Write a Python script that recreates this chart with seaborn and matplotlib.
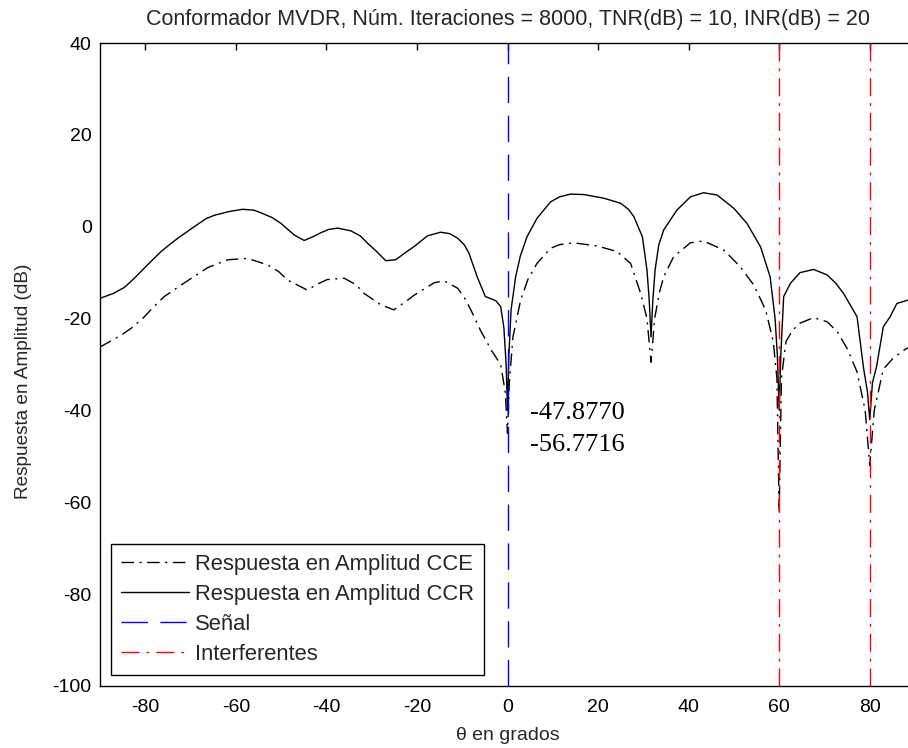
import matplotlib
matplotlib.use("Agg")
import matplotlib.pyplot as plt
import seaborn as sns
import pandas as pd

# --- Data ---
theta_ccr = [-90, -87, -84.6, -82.4, -79.5, -76.5, -74.5, -72.8, -69.2, -66.5,
             -64.7, -61.5, -58.5, -56, -54.4, -52, -50, -47.1, -44.9, -43,
             -41.2, -39.5, -37.5, -34.6, -32.5, -30.9, -28.8, -26.9, -24.7, -22.5,
             -20.6, -17.7, -14.8, -12.8, -11.0, -9.5, -8.5, -6.7, -4.9, -2.6,
             -1.5, -0.8, -0.3, 0, 0.3, 0.8, 1.8, 2.8, 4.3, 6.5, 9.5, 11.5, 13.9,
             16.9, 21.3, 25, 26.7, 27.9, 29.8, 30.8, 31.3, 31.7, 32.1, 32.6, 33.4,
             34.5, 37.4, 40.4, 43.3, 46.3, 50, 52.9, 55.9, 58.0, 59.1, 59.6, 60,
             60.4, 61, 62.5, 64.6, 67.6, 70.6, 72.5, 74.2, 77.2, 78.6, 79.5, 80,
             80.6, 81.5, 83, 84.5, 86, 88.4, 90]
resp_ccr = [-15.6, -14.5, -13.2, -11.2, -8.3, -5.4, -3.8, -2.5, 0.0, 1.8,
            2.5, 3.3, 3.8, 3.6, 3.0, 2.0, 0.7, -1.8, -3.0, -2.2,
            -1.3, -0.6, -0.3, -0.9, -2.0, -3.6, -5.5, -7.4, -7.2, -5.6,
            -4.3, -2.0, -1.2, -1.5, -2.5, -4.0, -5.8, -10.9, -15.2, -16.1,
            -17.4, -22, -30, -40, -28, -18, -10.9, -6.5, -2.2, 1.8, 5.4, 6.5, 7.1,
            7.0, 6.2, 5.1, 3.8, 2.2, -2.2, -9.4, -16, -24, -16, -9.4, -4.0,
            -0.7, 3.6, 6.5, 7.4, 6.9, 4.0, 0.7, -4.4, -10.9, -20, -28, -40,
            -27, -15.2, -12.3, -10.0, -9.3, -10.5, -12.3, -14.5, -19.6, -30.5, -36, -42,
            -34, -30.5, -21.8, -19.6, -16.7, -16.0, -15.5]

theta_cce = [-90, -85.3, -83.1, -80.5, -78, -75.8, -72.1, -69, -66.2, -61.8,
             -57.4, -53, -50.5, -48.6, -44.2, -42, -39.8, -36.1, -33.5, -31.7,
             -28, -25.1, -22.5, -20.6, -16.2, -14, -11, -9.5, -8.1, -6, -3.5,
             -1.5, -0.5, 0, 0.4, 1.2, 2.9, 4.5, 6.5, 9.5, 11.5, 14.6, 19.8, 24.2,
             27.2, 29.4, 30.8, 31.7, 32.5, 33.5, 34.5, 36.7, 40.4, 43.3, 47.8,
             51.4, 54.4, 57, 58.7, 59.5, 60, 60.5, 61.5, 63, 64.6, 67.6, 70.6,
             72.8, 75, 77.2, 79, 80, 81, 83, 85.2, 88.1, 90]
resp_cce = [-26.2, -23.6, -22.1, -19.9, -17.3, -15.2, -12.7, -10.7, -8.9, -7.2,
            -6.9, -8.3, -9.8, -11.6, -13.8, -12.5, -11.5, -11.2, -12.6, -14.5,
            -17.0, -18.1, -16.3, -14.9, -12.2, -11.8, -13.4, -15.5, -18.1, -22.5, -27,
            -30, -36, -45, -34, -24, -16, -11.5, -8, -4.7, -3.9, -3.5, -4.2, -5.4,
            -8, -14.5, -20, -29.5, -20, -14.5, -10.9, -6.5, -3.5, -3.1, -5.1,
            -8.7, -12.7, -18.1, -25, -33, -62, -33, -25, -22.5, -21, -19.8, -20.7,
            -22.8, -26.5, -31.6, -40, -52, -40, -31, -28.6, -26.5, -26]

signal_angle = [0]
interf_angles = [60, 80]
annot_values = ["-47.8770", "-56.7716"]

title = "Conformador MVDR, Núm. Iteraciones = 8000, TNR(dB) = 10, INR(dB) = 20"

sns.set_theme(style="white")
plt.rcParams["font.family"] = ["Liberation Sans", "DejaVu Sans"]
plt.rcParams["axes.unicode_minus"] = False

ccr = pd.DataFrame({"theta": theta_ccr, "resp": resp_ccr})
cce = pd.DataFrame({"theta": theta_cce, "resp": resp_cce})

fig = plt.figure(figsize=(9.08, 7.48), dpi=100)
ax = fig.add_axes([100 / 908, 1 - 686 / 748, 815 / 908, 643 / 748])

sns.lineplot(data=cce, x="theta", y="resp", ax=ax, color="black", lw=1.0,
             linestyle=(0, (9, 4, 1.5, 4)), label="Respuesta en Amplitud CCE")
sns.lineplot(data=ccr, x="theta", y="resp", ax=ax, color="black", lw=1.0,
             linestyle="-", label="Respuesta en Amplitud CCR")
for a in signal_angle:
    ax.axvline(a, color="blue", lw=1.0, linestyle=(0, (19, 9)), label="Señal")
for i, a in enumerate(interf_angles):
    ax.axvline(a, color="red", lw=1.0, linestyle=(0, (13, 5, 2, 5)),
               label="Interferentes" if i == 0 else None)

# null depth values at the signal direction
ax.text(5.0, -40.6, annot_values[0], family="Liberation Serif", fontsize=19,
        va="center", ha="left", color="black")
ax.text(5.0, -47.5, annot_values[1], family="Liberation Serif", fontsize=19,
        va="center", ha="left", color="black")

ax.set_xlim(-90, 90)
ax.set_ylim(-100, 40)
ax.set_xticks([-80, -60, -40, -20, 0, 20, 40, 60, 80])
ax.set_yticks(range(-100, 41, 20))
ax.tick_params(direction="in", length=5, width=1, top=True, right=True,
               labelsize=14, colors="black")
ax.tick_params(axis="x", pad=9)
ax.tick_params(axis="y", pad=6)
for s in ax.spines.values():
    s.set_color("black")
    s.set_linewidth(1.0)

ax.set_title(title, fontsize=15.5, pad=13)
ax.set_xlabel("θ en grados", fontsize=14, labelpad=8)
ax.set_ylabel("Respuesta en Amplitud (dB)", fontsize=13.7)
ax.yaxis.set_label_coords(-0.083, 0.474)

leg = ax.legend(loc="lower left", fontsize=15.8, frameon=True, fancybox=False,
                framealpha=1, edgecolor="black", borderaxespad=0.5, borderpad=0.45,
                labelspacing=0.42, handlelength=3.1, handletextpad=0.27)
leg.get_frame().set_linewidth(1.0)

fig.savefig("out.png", dpi=100)
